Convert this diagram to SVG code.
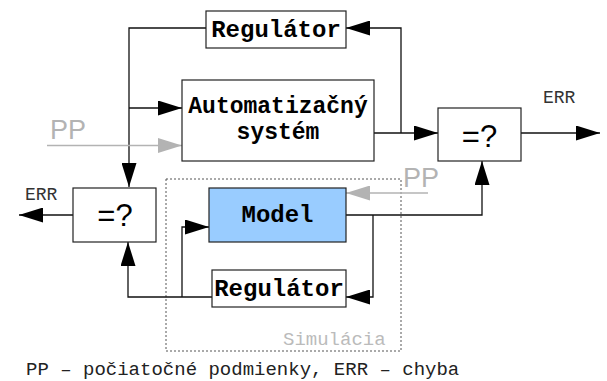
<svg xmlns="http://www.w3.org/2000/svg" width="607" height="381" viewBox="0 0 607 381">
<style>
.box{fill:#fff;stroke:#222;stroke-width:1.2}
.model{fill:#99ccff;stroke:#222;stroke-width:1.2}
.lbl{font-family:"Liberation Mono","DejaVu Sans Mono",monospace;font-weight:bold;font-size:24px;fill:#000;text-anchor:middle}
.lbl2{font-family:"Liberation Mono","DejaVu Sans Mono",monospace;font-weight:bold;font-size:23px;fill:#000;text-anchor:middle}
.cmp{font-family:"Liberation Sans",Arial,sans-serif;font-size:31px;fill:#000;text-anchor:middle}
.err{font-family:"Liberation Mono","DejaVu Sans Mono",monospace;font-size:18px;fill:#333}
.pp{font-family:"Liberation Sans",Arial,sans-serif;font-size:27px;fill:#b3b3b3}
.line{fill:none;stroke:#111;stroke-width:1.3}
.gline{fill:none;stroke:#b3b3b3;stroke-width:1.3}
</style>
<defs>
<marker id="ah" viewBox="0 0 24 15" refX="24" refY="7.5" markerWidth="24" markerHeight="15" markerUnits="userSpaceOnUse" orient="auto">
<path d="M0,0 L24,7.5 L0,15 z" fill="#000"/>
</marker>
<marker id="gah" viewBox="0 0 24 15" refX="24" refY="7.5" markerWidth="24" markerHeight="15" markerUnits="userSpaceOnUse" orient="auto">
<path d="M0,0 L24,7.5 L0,15 z" fill="#b3b3b3"/>
</marker>
</defs>
<rect width="607" height="381" fill="#fff"/>

<g id="simulacia">
<rect x="166" y="179" width="235" height="172" fill="none" stroke="#555" stroke-width="1" stroke-dasharray="2 2"/>
<text x="283" y="345" font-family="'Liberation Mono','DejaVu Sans Mono',monospace" font-size="19" fill="#bbb">Simulácia</text>
</g>

<g id="connectors">
<polyline class="line" points="206,28 129,28 129,187" marker-end="url(#ah)"/>
<line class="line" x1="129" y1="108" x2="182" y2="108" marker-end="url(#ah)"/>
<line class="line" x1="374" y1="133" x2="438" y2="133" marker-end="url(#ah)"/>
<polyline class="line" points="401,133 401,28 346,28" marker-end="url(#ah)"/>
<line class="line" x1="521" y1="133" x2="600" y2="133" marker-end="url(#ah)"/>
<line class="line" x1="73" y1="215" x2="19" y2="215" marker-end="url(#ah)"/>
<polyline class="line" points="346,215 482,215 482,161" marker-end="url(#ah)"/>
<polyline class="line" points="373,215 373,297 346,297" marker-end="url(#ah)"/>
<polyline class="line" points="212,297 128,297 128,242" marker-end="url(#ah)"/>
<polyline class="line" points="182,297 182,227 209,227" marker-end="url(#ah)"/>
<line class="gline" x1="47" y1="145.5" x2="182" y2="145.5" marker-end="url(#gah)"/>
<line class="gline" x1="428" y1="193" x2="346" y2="193" marker-end="url(#gah)"/>
</g>

<g id="regulator-top">
<rect class="box" x="206" y="11" width="140" height="37"/>
<text class="lbl" x="276" y="37">Regulátor</text>
</g>

<g id="automatizacny-system">
<rect class="box" x="182" y="80" width="192" height="81"/>
<text class="lbl2" x="278" y="113">Automatizačný</text>
<text class="lbl2" x="278" y="139">systém</text>
</g>

<g id="compare-right">
<rect class="box" x="438" y="108" width="83" height="53"/>
<text class="cmp" x="479.5" y="147">=?</text>
</g>

<g id="compare-left">
<rect class="box" x="73" y="188" width="83" height="54"/>
<text class="cmp" x="115" y="226">=?</text>
</g>

<g id="model">
<rect class="model" x="209" y="188" width="137" height="54"/>
<text class="lbl" x="277.5" y="222">Model</text>
</g>

<g id="regulator-bottom">
<rect class="box" x="212" y="270" width="134" height="37"/>
<text class="lbl" x="279" y="296">Regulátor</text>
</g>

<g id="labels">
<text class="err" x="543" y="103">ERR</text>
<text class="err" x="25" y="200">ERR</text>
<text class="pp" x="50" y="139">PP</text>
<text class="pp" x="403" y="187">PP</text>
<text x="26" y="375" font-family="'Liberation Mono','DejaVu Sans Mono',monospace" font-size="19" fill="#222">PP – počiatočné podmienky, ERR – chyba</text>
</g>
</svg>
